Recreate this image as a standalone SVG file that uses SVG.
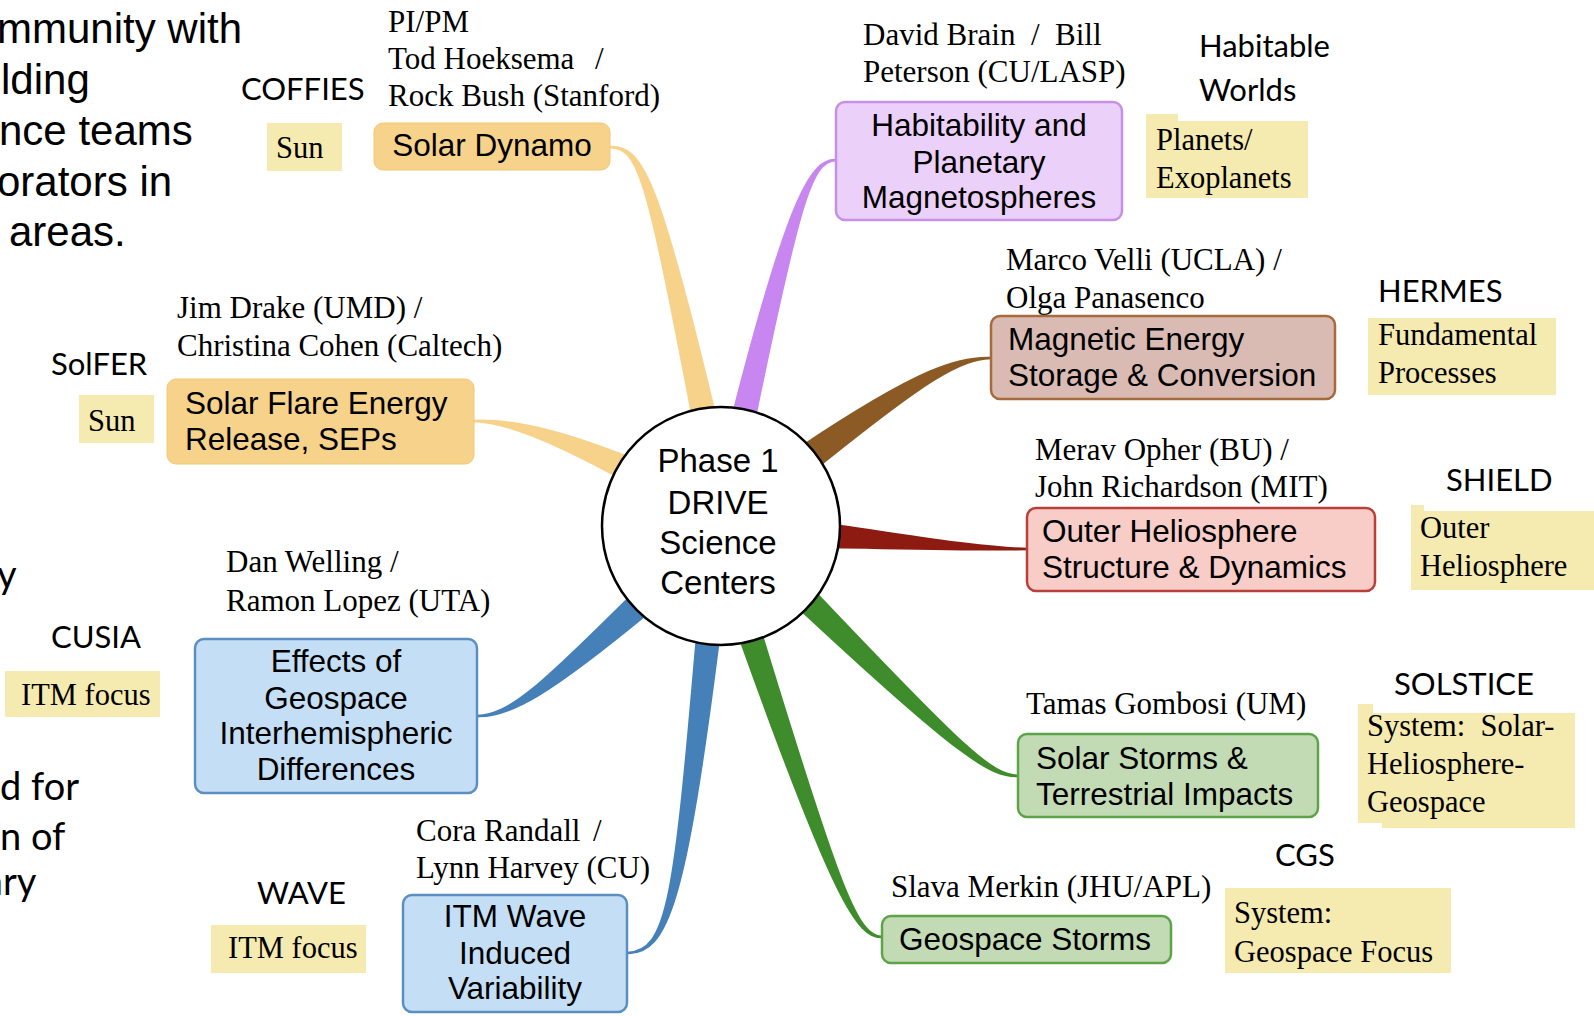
<svg xmlns="http://www.w3.org/2000/svg" width="1594" height="1016" viewBox="0 0 1594 1016">
<style>
  .bx { font-family: "Liberation Sans", Arial, Helvetica, sans-serif; font-size: 31.5px; fill: #000; }
  .au { font-family: "Liberation Serif", "Times New Roman", serif; font-size: 31px; fill: #000; }
  .nt { font-family: "Liberation Serif", "Times New Roman", serif; font-size: 30.5px; fill: #000; }
  .pj { font-family: Lato, "Open Sans", sans-serif; font-size: 31px; fill: #000; }
  .lt { font-family: "Liberation Sans", Arial, sans-serif; font-size: 42px; fill: #000; }
  .lb { font-family: Lato, "Open Sans", sans-serif; font-size: 38px; fill: #000; }
  .note { fill: #f5eab0; }
  .org { fill: #f7d28b; stroke: #f1c774; stroke-width: 1; }
  .pur { fill: #ebd0fa; stroke: #c78fe6; stroke-width: 2.5; }
  .brn { fill: #d9bbb3; stroke: #a66a3c; stroke-width: 2.5; }
  .red { fill: #f8ccc7; stroke: #b9403a; stroke-width: 2.5; }
  .grn { fill: #c2dbb5; stroke: #5da449; stroke-width: 2.5; }
  .blu { fill: #c4def5; stroke: #5b8ec1; stroke-width: 2.5; }
  .c { text-anchor: middle; }
</style>

<g id="left-text">
  <text class="lt" x="-3" y="43">mmunity with</text>
  <text class="lt" x="1" y="94">lding</text>
  <text class="lt" x="-1" y="145">nce teams</text>
  <text class="lt" x="-3" y="196">orators in</text>
  <text class="lt" x="9" y="246">areas.</text>
  <text class="lb" x="-3" y="588">y</text>
  <text class="lb" x="0" y="800">d for</text>
  <text class="lb" x="0" y="850">n of</text>
  <text class="lb" x="-16" y="895">ary</text>
</g>

<g id="connectors">
  <path fill="#f7d28b" stroke="#f7d28b" stroke-width="2.5" stroke-linejoin="round" d="M610,147 C641,146 657.4,173.8 713.8,409.7 L692.2,414.3 C646.6,176.2 639,148 610,147 Z"/>
  <path fill="#c886f0" stroke="#c886f0" stroke-width="2.5" stroke-linejoin="round" d="M836,160 C812,161.1 800.4,196.2 754.7,418.5 L733.3,413.5 C789.6,193.8 812,158.9 836,160 Z"/>
  <path fill="#8c5a25" stroke="#8c5a25" stroke-width="2.5" stroke-linejoin="round" d="M991,358 C960,359.3 928.9,377.2 815.7,468.5 L800.3,447.5 C921.2,366.8 960,356.7 991,358 Z"/>
  <path fill="#8e1b12" stroke="#8e1b12" stroke-width="2.5" stroke-linejoin="round" d="M1027,549 C980,550.1 919.6,548.5 831.1,547 L832.9,525 C920.4,537.5 980,547.9 1027,549 Z"/>
  <path fill="#3e8c2b" stroke="#3e8c2b" stroke-width="2.5" stroke-linejoin="round" d="M1018,776 C992,777.3 962,760 798,607 L814,591 C968,753.5 992,774.7 1018,776 Z"/>
  <path fill="#3e8c2b" stroke="#3e8c2b" stroke-width="2.5" stroke-linejoin="round" d="M882,937 C858,938.2 834,901.3 739.6,637.4 L760.4,630.6 C842,898.7 858,935.8 882,937 Z"/>
  <path fill="#4680b8" stroke="#4680b8" stroke-width="2.5" stroke-linejoin="round" d="M627,953 C668,951.9 674.5,899.4 697.1,635.8 L718.9,638.2 C685.5,900.6 668,954.1 627,953 Z"/>
  <path fill="#4680b8" stroke="#4680b8" stroke-width="2.5" stroke-linejoin="round" d="M477,716 C510,714.9 541,685.5 631.9,595.1 L648.1,612.9 C549,694.5 510,717.1 477,716 Z"/>
  <path fill="#f7d28b" stroke="#f7d28b" stroke-width="2.5" stroke-linejoin="round" d="M474,421 C500,419.9 542.3,423 629.7,458 L620.3,478 C537.7,433 500,422.1 474,421 Z"/>
</g>

<g id="center">
  <circle cx="721" cy="526" r="119" fill="#fff" stroke="#000" stroke-width="2.5"/>
  <text class="bx c" x="718" y="472" style="font-size:33px">Phase 1</text>
  <text class="bx c" x="718" y="514" style="font-size:33px">DRIVE</text>
  <text class="bx c" x="718" y="554" style="font-size:33px">Science</text>
  <text class="bx c" x="718" y="594" style="font-size:33px">Centers</text>
</g>

<g id="solar-dynamo">
  <text class="pj" x="241" y="100">COFFIES</text>
  <rect class="note" x="267" y="123" width="75" height="48"/>
  <text class="nt" x="276" y="158">Sun</text>
  <text class="au" x="388" y="32">PI/PM</text>
  <text class="au" x="388" y="69">Tod Hoeksema<tspan x="595">/</tspan></text>
  <text class="au" x="388" y="106">Rock Bush (Stanford)</text>
  <rect class="org" x="374" y="123" width="236" height="47" rx="9"/>
  <text class="bx c" x="492" y="156">Solar Dynamo</text>
</g>

<g id="solar-flare">
  <text class="pj" x="51" y="375">SolFER</text>
  <rect class="note" x="79" y="395" width="75" height="48"/>
  <text class="nt" x="88" y="431">Sun</text>
  <text class="au" x="177" y="318">Jim Drake (UMD) /</text>
  <text class="au" x="177" y="356">Christina Cohen (Caltech)</text>
  <rect class="org" x="167" y="379" width="307" height="85" rx="9"/>
  <text class="bx" x="185" y="414">Solar Flare Energy</text>
  <text class="bx" x="185" y="450">Release, SEPs</text>
</g>

<g id="habitability">
  <text class="au" x="863" y="45" xml:space="preserve">David Brain  /  Bill</text>
  <text class="au" x="863" y="82">Peterson (CU/LASP)</text>
  <rect class="pur" x="836" y="102" width="286" height="118" rx="9"/>
  <text class="bx c" x="979" y="136">Habitability and</text>
  <text class="bx c" x="979" y="173">Planetary</text>
  <text class="bx c" x="979" y="208">Magnetospheres</text>
  <text class="pj" x="1199" y="57">Habitable</text>
  <text class="pj" x="1199" y="101">Worlds</text>
  <polygon class="note" points="1146,114 1178,114 1178,121 1308,121 1308,198 1146,198"/>
  <text class="nt" x="1156" y="150">Planets/</text>
  <text class="nt" x="1156" y="188">Exoplanets</text>
</g>

<g id="magnetic-energy">
  <text class="au" x="1006" y="270">Marco Velli (UCLA) /</text>
  <text class="au" x="1006" y="308">Olga Panasenco</text>
  <rect class="brn" x="991" y="316" width="344" height="83" rx="9"/>
  <text class="bx" x="1008" y="350">Magnetic Energy</text>
  <text class="bx" x="1008" y="386">Storage &amp; Conversion</text>
  <text class="pj" x="1378" y="302">HERMES</text>
  <rect class="note" x="1368" y="318" width="188" height="77"/>
  <text class="nt" x="1378" y="345">Fundamental</text>
  <text class="nt" x="1378" y="383">Processes</text>
</g>

<g id="outer-heliosphere">
  <text class="au" x="1035" y="460">Merav Opher (BU) /</text>
  <text class="au" x="1035" y="497">John Richardson (MIT)</text>
  <rect class="red" x="1027" y="508" width="348" height="83" rx="9"/>
  <text class="bx" x="1042" y="542">Outer Heliosphere</text>
  <text class="bx" x="1042" y="578">Structure &amp; Dynamics</text>
  <text class="pj" x="1446" y="491">SHIELD</text>
  <polygon class="note" points="1411,505 1424,505 1424,511 1594,511 1594,590 1411,590"/>
  <text class="nt" x="1420" y="538">Outer</text>
  <text class="nt" x="1420" y="576">Heliosphere</text>
</g>

<g id="solar-storms">
  <text class="au" x="1026" y="714">Tamas Gombosi (UM)</text>
  <rect class="grn" x="1018" y="734" width="300" height="83" rx="9"/>
  <text class="bx" x="1036" y="769">Solar Storms &amp;</text>
  <text class="bx" x="1036" y="805">Terrestrial Impacts</text>
  <text class="pj" x="1394" y="695">SOLSTICE</text>
  <polygon class="note" points="1358,704 1373,704 1373,713 1575,713 1575,828 1382,828 1382,823 1358,823"/>
  <text class="nt" x="1367" y="736" xml:space="preserve">System:  Solar-</text>
  <text class="nt" x="1367" y="774">Heliosphere-</text>
  <text class="nt" x="1367" y="812">Geospace</text>
</g>

<g id="geospace-storms">
  <text class="au" x="891" y="897">Slava Merkin (JHU/APL)</text>
  <rect class="grn" x="882" y="916" width="289" height="47" rx="9"/>
  <text class="bx" x="899" y="950">Geospace Storms</text>
  <text class="pj" x="1275" y="866">CGS</text>
  <rect class="note" x="1225" y="888" width="226" height="85"/>
  <text class="nt" x="1234" y="923">System:</text>
  <text class="nt" x="1234" y="962">Geospace Focus</text>
</g>

<g id="itm-wave">
  <text class="au" x="416" y="841">Cora Randall<tspan x="593">/</tspan></text>
  <text class="au" x="416" y="878">Lynn Harvey (CU)</text>
  <rect class="blu" x="403" y="895" width="224" height="117" rx="9"/>
  <text class="bx c" x="515" y="927">ITM Wave</text>
  <text class="bx c" x="515" y="964">Induced</text>
  <text class="bx c" x="515" y="999">Variability</text>
  <text class="pj" x="257" y="904">WAVE</text>
  <rect class="note" x="211" y="925" width="155" height="48"/>
  <text class="nt" x="228" y="958">ITM focus</text>
</g>

<g id="interhemispheric">
  <text class="au" x="226" y="572">Dan Welling /</text>
  <text class="au" x="226" y="611">Ramon Lopez (UTA)</text>
  <rect class="blu" x="195" y="639" width="282" height="154" rx="9"/>
  <text class="bx c" x="336" y="672">Effects of</text>
  <text class="bx c" x="336" y="709">Geospace</text>
  <text class="bx c" x="336" y="744">Interhemispheric</text>
  <text class="bx c" x="336" y="780">Differences</text>
  <text class="pj" x="51" y="648">CUSIA</text>
  <rect class="note" x="5" y="671" width="155" height="46"/>
  <text class="nt" x="21" y="705">ITM focus</text>
</g>
</svg>
